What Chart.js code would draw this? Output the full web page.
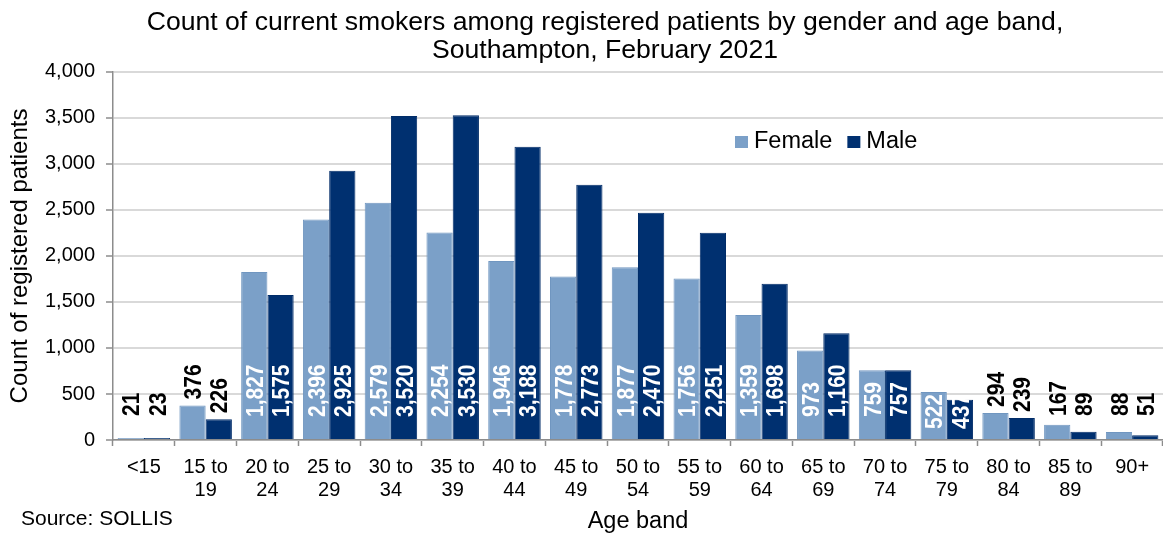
<!DOCTYPE html>
<html><head><meta charset="utf-8">
<script src="https://cdn.jsdelivr.net/npm/chart.js@4/dist/chart.umd.min.js"></script>
<style>html,body{margin:0;padding:0;background:#fff}#wrap{width:1163px;height:536px;position:relative}</style>
</head><body><div id="wrap"><canvas id="c"></canvas></div>
<script>
const titleLines = ['Count of current smokers among registered patients by gender and age band,', 'Southampton, February 2021'];
const categories = [['<15'], ['15 to', '19'], ['20 to', '24'], ['25 to', '29'], ['30 to', '34'], ['35 to', '39'], ['40 to', '44'], ['45 to', '49'], ['50 to', '54'], ['55 to', '59'], ['60 to', '64'], ['65 to', '69'], ['70 to', '74'], ['75 to', '79'], ['80 to', '84'], ['85 to', '89'], ['90+']];
const female = [21, 376, 1827, 2396, 2579, 2254, 1946, 1778, 1877, 1756, 1359, 973, 759, 522, 294, 167, 88];
const male = [23, 226, 1575, 2925, 3520, 3530, 3188, 2773, 2470, 2251, 1698, 1160, 757, 437, 239, 89, 51];
const yTickValues = [0, 500, 1000, 1500, 2000, 2500, 3000, 3500, 4000];
const yAxisTitle = 'Count of registered patients';
const xAxisTitle = 'Age band';
const sourceText = 'Source: SOLLIS';

const FONT = '"Liberation Sans", Arial, Helvetica, sans-serif';
const fmt = v => v.toLocaleString('en-US');

const titleShift = {
  id: 'titleShift',
  afterLayout(chart) {
    const t = chart.titleBlock;
    if (t) { t.left = 2 * 605 - t.right; }
  }
};

const barLabels = {
  id: 'barLabels',
  afterDatasetsDraw(chart) {
    const ctx = chart.ctx;
    ctx.save();
    ctx.font = 'bold 21px ' + FONT;
    chart.data.datasets.forEach((ds, i) => {
      const meta = chart.getDatasetMeta(i);
      meta.data.forEach((bar, j) => {
        const v = ds.data[j];
        const p = bar.getProps(['x', 'y', 'base'], true);
        const h = p.base - p.y;
        let yb, color;
        if (v >= 400) { color = '#ffffff'; yb = h > 60 ? p.base - 22 : p.base - 10; }
        else { color = '#000000'; yb = Math.min(p.base - 23, p.y - 6); }
        ctx.save();
        ctx.translate(p.x, yb);
        ctx.rotate(-Math.PI / 2);
        ctx.scale(1, 1.16);
        ctx.textAlign = 'left';
        ctx.textBaseline = 'alphabetic';
        ctx.fillStyle = color;
        ctx.fillText(fmt(v), 0, 7.5);
        ctx.restore();
      });
    });
    ctx.restore();
  }
};

const extras = {
  id: 'extras',
  afterDraw(chart) {
    const ctx = chart.ctx;
    ctx.save();
    // legend
    ctx.font = '23.5px ' + FONT;
    ctx.textAlign = 'left';
    ctx.textBaseline = 'alphabetic';
    let x = 735;
    const yb = 148;
    chart.data.datasets.forEach(ds => {
      ctx.fillStyle = ds.backgroundColor;
      ctx.fillRect(x, yb - 12, 13, 12);
      x += 19;
      ctx.fillStyle = '#000';
      ctx.fillText(ds.label, x, yb);
      x += ctx.measureText(ds.label).width + 15;
    });
    // source
    ctx.font = '21px ' + FONT;
    ctx.fillStyle = '#000';
    ctx.fillText(sourceText, 21, 525);
    ctx.restore();
  }
};

new Chart(document.getElementById('c'), {
  type: 'bar',
  data: {
    labels: categories,
    datasets: [
      { label: 'Female', data: female, backgroundColor: '#7BA0C8', borderColor: '#7096C0', borderWidth: 1 },
      { label: 'Male', data: male, backgroundColor: '#003070', borderColor: '#002C68', borderWidth: 1 }
    ]
  },
  options: {
    responsive: true,
    maintainAspectRatio: false,
    animation: false,
    layout: { padding: { left: 0, right: -7, top: 0, bottom: 0 } },
    datasets: { bar: { categoryPercentage: 0.85, barPercentage: 1.0 } },
    plugins: {
      legend: { display: false },
      tooltip: { enabled: false },
      title: {
        display: true, text: titleLines, color: '#000',
        font: { family: FONT, size: 26.6, weight: 'normal', lineHeight: 1.07 },
        padding: { top: 8, bottom: 7 }
      }
    },
    scales: {
      x: {
        grid: { display: true, drawOnChartArea: false, drawTicks: true, tickLength: 6, tickColor: '#8c8c8c', tickWidth: 1.5, offset: true },
        border: { color: '#8c8c8c', width: 1.5 },
        ticks: { color: '#000', font: { family: FONT, size: 20, lineHeight: 1.17 }, padding: 9.3, maxRotation: 0, minRotation: 0, autoSkip: false },
        title: { display: true, text: xAxisTitle, color: '#000', font: { family: FONT, size: 23.5, lineHeight: 1.2 }, padding: { top: 0, bottom: 0 } },
        afterFit(s) { s.height = 96; }
      },
      y: {
        min: 0, max: 4000,
        afterBuildTicks(s) { s.ticks = yTickValues.map(v => ({ value: v })); },
        grid: { color: '#d9d9d9', lineWidth: 2, drawTicks: true, tickLength: 7, tickColor: '#8c8c8c', tickWidth: 1.5 },
        border: { color: '#8c8c8c', width: 1.5 },
        ticks: { color: '#000', font: { family: FONT, size: 20 }, padding: 11, callback: v => fmt(v) },
        title: { display: true, text: yAxisTitle, color: '#000', font: { family: FONT, size: 24, lineHeight: 1.2 }, padding: { top: 6, bottom: 0 } },
        afterFit(s) { s.width = 113; }
      }
    }
  },
  plugins: [titleShift, barLabels, extras]
});
</script>
</body></html>
